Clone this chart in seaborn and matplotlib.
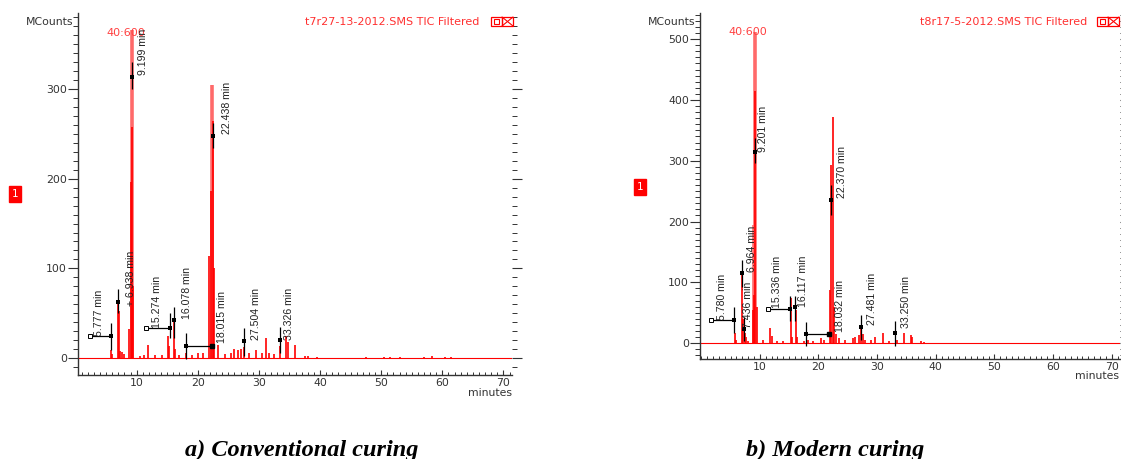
import matplotlib
matplotlib.use('Agg')
import matplotlib.pyplot as plt
import seaborn as sns
import pandas as pd
from matplotlib.patches import Rectangle
from matplotlib.ticker import MultipleLocator

# ---- a) conventional curing: peaks read from the TIC (minutes, MCounts)
conv_t = [5.85, 6.0, 6.95, 7.05, 7.3, 7.6, 8.0, 8.75, 9.0, 9.25, 9.4, 10.5, 11.2, 11.8,
          13.0, 14.2, 15.15, 15.25, 16.05, 16.3, 17.0, 18.0, 19.0, 20.1, 20.8, 21.9, 22.2,
          22.45, 22.6, 23.3, 24.5, 25.5, 26.0, 26.5, 27.0, 27.5, 28.3, 29.5, 30.5, 31.1,
          31.6, 32.5, 33.4, 34.5, 34.7, 35.9, 37.5, 38.0, 39.5, 47.5, 50.5, 51.5, 53.0,
          57.0, 58.3, 60.5, 61.5]
conv_h = [9, 4, 61, 52, 8, 7, 4, 32, 196, 258, 80, 2, 3, 15,
          3, 3, 24, 13, 41, 10, 3, 5, 3, 5, 6, 114, 186,
          264, 100, 15, 4, 6, 10, 9, 10, 12, 5, 9, 5, 22,
          5, 4, 13, 24, 18, 14, 2, 2, 1, 1, 1.5, 1.5, 1,
          1, 2, 1.5, 1]
conv_top_t = [9.2, 22.35]
conv_top_h = [366, 305]

conv_labels = ['5.777 min', '+ 6.938 min', '9.199 min', '15.274 min', '16.078 min',
               '18.015 min', '22.438 min', '27.504 min', '33.326 min']
conv_ann_t = [5.85, 7.0, 9.3, 15.4, 16.15, 18.1, 22.5, 27.6, 33.4]
conv_ann_y = [24, 62, 314, 33, 42, 13, 248, 19, 20]

# ---- b) modern curing
mod_t = [5.78, 6.0, 6.96, 7.1, 7.44, 7.7, 8.0, 8.8, 9.0, 9.25, 9.5, 10.5, 11.8, 12.1,
         13.0, 14.0, 15.3, 15.5, 16.1, 16.4, 17.5, 18.2, 19.0, 20.5, 21.0, 21.9, 22.2,
         22.4, 22.6, 22.9, 23.5, 24.5, 25.8, 26.3, 26.9, 27.3, 27.6, 28.0, 29.0, 29.6,
         31.0, 32.0, 33.3, 34.6, 35.8, 36.0, 37.5, 38.0, 47.0, 48.0, 50.5, 52.0, 55.0,
         58.0, 61.0, 63.0]
mod_h = [17, 5, 115, 40, 16, 10, 4, 55, 80, 414, 60, 5, 25, 12,
         4, 3, 74, 10, 55, 10, 4, 6, 4, 8, 6, 88, 293,
         372, 60, 15, 8, 5, 8, 10, 14, 25, 15, 6, 5, 10,
         17, 4, 5, 16, 14, 10, 3, 2, 1, 1, 1, 1, 1,
         1, 1, 1]
mod_top_t = [9.0, 9.15]
mod_top_h = [195, 512]

mod_labels = ['5.780 min', '6.964 min', '7.436 min', '9.201 min', '15.336 min',
              '16.117 min', '18.032 min', '22.370 min', '27.481 min', '33.250 min']
mod_ann_t = [5.6, 6.9, 7.3, 9.1, 15.2, 16.0, 17.9, 22.2, 27.3, 33.1]
mod_ann_y = [38, 115, 23, 315, 56, 59, 15, 235, 27, 17]

# layout of the annotation glyphs: (bar low, bar high, text x, text bottom, leader from, leader to)
conv_layout = [(9, 39, 3.8, 24, 2.3, None), (50, 77, 9.1, 58, None, None),
               (300, 330, 11.0, 316, None, None), (22, 50, 13.3, 33, 11.6, None),
               (22, 57, 18.2, 43, None, None), (-1, 28, 24.0, 17, None, 22.3),
               (234, 262, 24.7, 250, None, None), (2, 33, 29.5, 20, None, None),
               (6, 35, 35.0, 20, None, None)]
mod_layout = [(16, 59, 3.5, 38, 1.7, None), (93, 136, 8.6, 117, None, None),
              (3, 43, 7.9, 25, None, None), (296, 337, 10.6, 314, None, None),
              (36, 77, 12.9, 58, 11.4, None), (36, 77, 17.4, 60, None, None),
              (-5, 35, 23.7, 19, None, 21.8), (210, 260, 24.0, 238, None, None),
              (5, 47, 29.1, 30, None, None), (-4, 37, 35.0, 25, None, None)]

sns.set_style('ticks')
plt.rcParams['font.family'] = ['DejaVu Sans']

W, H = 1121, 459
fig = plt.figure(figsize=(W / 100, H / 100), dpi=100)


def px_box(x0, y0, x1, y1):
    # pixel box (top-left origin) -> figure fraction rect
    return [x0 / W, 1 - y1 / H, (x1 - x0) / W, (y1 - y0) / H]


def draw_panel(rect, xlim, ylim, yticks, t, h, top_t, top_h, labels, ann_t, ann_y, layout):
    ax = fig.add_axes(px_box(*rect))
    ax.axhline(0, color='red', lw=0.8, zorder=1)
    ax.vlines(top_t, 0, top_h, color='#ff6a6a', lw=2.6, zorder=2)
    ax.vlines(t, 0, h, color='red', lw=1.2, zorder=3)

    for lab, tx, ty, (lo, hi, xt, yt, lf, lt) in zip(labels, ann_t, ann_y, layout):
        ax.vlines(tx, lo, hi, color='black', lw=0.9, zorder=4)
        if lf is not None:
            ax.hlines(ty, lf, tx, color='black', lw=0.9, zorder=4)
            ax.plot(lf, ty, marker='s', ms=2.6, mfc='white', mec='black', mew=0.7, zorder=5)
        if lt is not None:
            ax.hlines(ty, tx, lt, color='black', lw=0.9, zorder=4)
            ax.plot(lt, ty, marker='s', ms=3, color='black', zorder=5)
        ax.text(xt, yt, lab, rotation=90, ha='center', va='bottom', fontsize=7.6,
                family='Liberation Sans', color='#222222', zorder=6)

    pts = pd.DataFrame({'t': ann_t, 'y': ann_y})
    sns.scatterplot(data=pts, x='t', y='y', marker='s', s=10, color='black',
                    edgecolor='black', linewidth=0, ax=ax, zorder=5)

    ax.set_xlim(*xlim)
    ax.set_ylim(*ylim)
    ax.set_xlabel('')
    ax.set_ylabel('')
    ax.set_xticks([10, 20, 30, 40, 50, 60, 70])
    ax.xaxis.set_minor_locator(MultipleLocator(1))
    ax.set_yticks(yticks)
    ax.yaxis.set_minor_locator(MultipleLocator(10))
    for s in ['top', 'right']:
        ax.spines[s].set_visible(False)
    for s in ['left', 'bottom']:
        ax.spines[s].set_color('#333333')
        ax.spines[s].set_linewidth(1.0)
    ax.tick_params(axis='x', which='major', direction='in', length=3.5, width=0.8,
                   colors='#333333', labelsize=7.8, pad=2.5)
    ax.tick_params(axis='x', which='minor', direction='in', length=2.2, width=0.7,
                   colors='#333333')
    ax.tick_params(axis='y', which='major', direction='out', length=7, width=0.8,
                   colors='#333333', labelsize=7.8, pad=1, right=True)
    ax.tick_params(axis='y', which='minor', direction='out', length=3.5, width=0.7,
                   colors='#333333', right=True)
    for lab in ax.get_xticklabels() + ax.get_yticklabels():
        lab.set_color('#333333')
    return ax


ax1 = draw_panel((78, 13, 512, 375), (0.4, 71.4), (-19, 385), [0, 100, 200, 300],
                 conv_t, conv_h, conv_top_t, conv_top_h,
                 conv_labels, conv_ann_t, conv_ann_y, conv_layout)
ax1.text(8.3, 363, '40:600', color='#ff4040', fontsize=8, ha='center', va='center')

ax2 = draw_panel((700, 13, 1120, 359), (-0.2, 71.4), (-26, 543), [0, 100, 200, 300, 400, 500],
                 mod_t, mod_h, mod_top_t, mod_top_h,
                 mod_labels, mod_ann_t, mod_ann_y, mod_layout)
ax2.text(8.0, 511, '40:600', color='#ff4040', fontsize=8, ha='center', va='center')


def header(x_mc, x_title_end, x_box, y, title):
    fig.text(x_mc / W, 1 - y / H, 'MCounts', ha='right', va='center', fontsize=7.8,
             color='#333333')
    fig.text(x_title_end / W, 1 - y / H, title, ha='right', va='center', fontsize=8,
             color='#ff3030')
    # the two small window buttons of the viewer
    fig.add_artist(Rectangle((x_box / W, 1 - 26 / H), 11 / W, 9 / H, fill=False,
                             ec='red', lw=0.9, transform=fig.transFigure))
    fig.add_artist(Rectangle(((x_box + 3) / W, 1 - 23.5 / H), 5 / W, 4 / H, fill=False,
                             ec='red', lw=0.8, transform=fig.transFigure))
    fig.add_artist(Rectangle(((x_box + 11) / W, 1 - 26 / H), 11 / W, 9 / H, fill=False,
                             ec='red', lw=0.9, transform=fig.transFigure))
    fig.add_artist(plt.Line2D([(x_box + 11) / W, (x_box + 22) / W], [1 - 26 / H, 1 - 17 / H],
                              color='red', lw=0.8, transform=fig.transFigure))
    fig.add_artist(plt.Line2D([(x_box + 11) / W, (x_box + 22) / W], [1 - 17 / H, 1 - 26 / H],
                              color='red', lw=0.8, transform=fig.transFigure))


header(73, 479, 491, 22, 't7r27-13-2012.SMS TIC Filtered')
header(695, 1087, 1097, 22, 't8r17-5-2012.SMS TIC Filtered')

fig.text(512 / W, 1 - 393 / H, 'minutes', ha='right', va='center', fontsize=7.8, color='#333333')
fig.text(1119 / W, 1 - 376 / H, 'minutes', ha='right', va='center', fontsize=7.8, color='#333333')

# red trace-number badges
fig.text(15 / W, 1 - 194 / H, '1', ha='center', va='center', fontsize=7.5, color='white',
         bbox=dict(boxstyle='square,pad=0.3', fc='red', ec='red'))
fig.text(640 / W, 1 - 187 / H, '1', ha='center', va='center', fontsize=7.5, color='white',
         bbox=dict(boxstyle='square,pad=0.3', fc='red', ec='red'))

cap = dict(ha='center', va='baseline', fontsize=17.5, family='Liberation Serif',
           weight='bold', style='italic', color='black')
fig.text(302 / W, 1 - 456 / H, 'a) Conventional curing', **cap)
fig.text(835 / W, 1 - 456 / H, 'b) Modern curing', **cap)

fig.savefig('out.png', dpi=100)
